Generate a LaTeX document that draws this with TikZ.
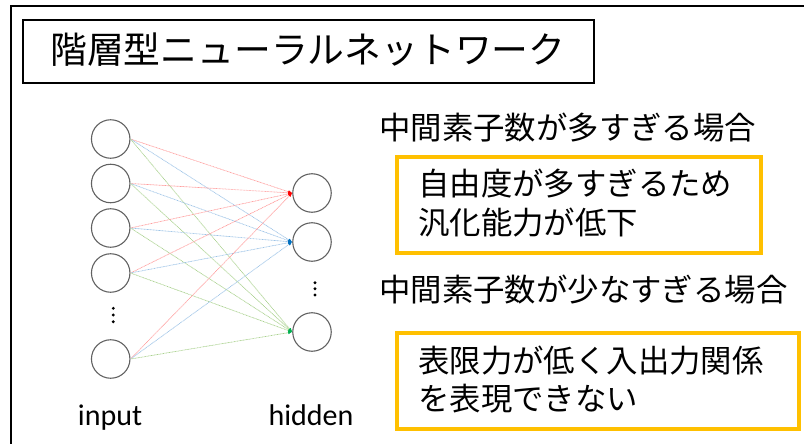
\documentclass[tikz,border=0pt]{standalone}
\usepackage{fontspec}
\setmainfont{Carlito}
\newfontfamily\cjk{Noto Sans CJK JP}
\usetikzlibrary{arrows.meta}
\definecolor{gold}{HTML}{FFC000}
\definecolor{lred}{HTML}{FF9C9C}
\definecolor{lblue}{HTML}{9DC3E6}
\definecolor{lgreen}{HTML}{A9D18E}
\definecolor{tred}{HTML}{FF0000}
\definecolor{tblue}{HTML}{0070C0}
\definecolor{tgreen}{HTML}{00B050}
\begin{document}
\begin{tikzpicture}[x=1pt,y=-1pt,
  neuron/.style={circle,draw=black!62,line width=1.1pt,minimum size=38.5pt,inner sep=0pt},
  goldbox/.style={draw=gold,line width=4pt,rectangle,inner sep=0pt},
  titlebox/.style={draw=black,line width=1.4pt,rectangle,inner sep=0pt},
  jtext/.style={font=\cjk\fontsize{31.4}{38.5}\selectfont,inner sep=0pt,anchor=west,align=left},
  label/.style={font=\fontsize{30}{36}\selectfont,inner sep=0pt,anchor=base},
  vdot/.style={circle,fill=black,inner sep=0pt,minimum size=3.2pt},
  wire/.style={line width=0.7pt,dash pattern=on 0.9pt off 0.6pt},
  tip/.style={-{Latex[length=4pt,width=3.2pt,color=#1]}}
]
\useasboundingbox (0,0) rectangle (804,444);
\clip (0,0) rectangle (804,444);
% outer frame
\draw[line width=2pt] (11,460) -- (11,6) -- (830,6);
% title
\node[titlebox,minimum width=571pt,minimum height=63pt] (title) at (308.5,51.5) {};
\node[font=\cjk\fontsize{36.8}{40}\selectfont,inner sep=0pt] (ttext) at (308,50) {階層型ニューラルネットワーク};
% input neurons
\node[neuron] (i1) at (110.7,139) {};
\node[neuron] (i2) at (110.7,183.5) {};
\node[neuron] (i3) at (110.7,228) {};
\node[neuron] (i4) at (110.7,273) {};
\node[neuron] (i5) at (110.7,359) {};
\node[vdot] (id1) at (113.3,308.3) {};
\node[vdot] (id2) at (113.3,315) {};
\node[vdot] (id3) at (113.3,321.7) {};
% hidden neurons
\node[neuron] (h1) at (312,193) {};
\node[neuron] (h2) at (312,242) {};
\node[neuron] (h3) at (312,332) {};
\node[vdot] (hd1) at (315,282.7) {};
\node[vdot] (hd2) at (315,288.8) {};
\node[vdot] (hd3) at (315,295) {};
% wires
\foreach \i in {1,...,5}{
  \draw[wire,lred,tip=tred] (i\i.east) -- (h1.west);
  \draw[wire,lblue,tip=tblue] (i\i.east) -- (h2.west);
  \draw[wire,lgreen,tip=tgreen] (i\i.east) -- (h3.west);
}
% labels
\node[label] (lin) at (110,425) {input};
\node[label] (lhid) at (311,425) {hidden};
% right texts
\node[jtext] (c1) at (379,128) {中間素子数が多すぎる場合};
\node[goldbox,minimum width=364pt,minimum height=96pt] (b1) at (579,205) {};
\node[jtext] (t1) at (418,203) {自由度が多すぎるため\\汎化能力が低下};
\node[jtext] (c2) at (379,290) {中間素子数が少なすぎる場合};
\node[goldbox,minimum width=402pt,minimum height=96pt] (b2) at (598,381) {};
\node[jtext] (t2) at (418,379.5) {表限力が低く入出力関係\\を表現できない};
\end{tikzpicture}
\end{document}
